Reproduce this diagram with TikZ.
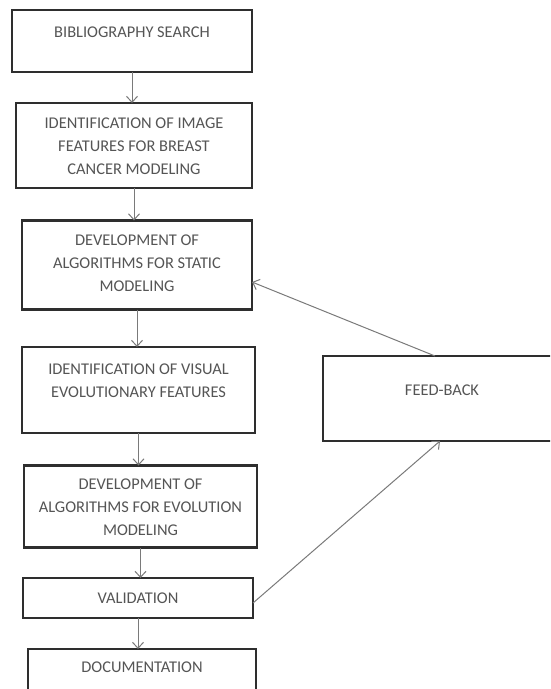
\documentclass[tikz,border=0pt]{standalone}
\usepackage{fontspec}
\setmainfont{Carlito}
\usetikzlibrary{arrows.meta}
\definecolor{boxline}{HTML}{2E2E2E}
\definecolor{linkline}{HTML}{7A7A7A}
\definecolor{labeltext}{HTML}{555555}
\begin{document}
\begin{tikzpicture}[x=1pt,y=-1pt,
  stage/.style={draw=boxline,line width=2.2pt,rectangle,inner sep=0pt,outer sep=0pt},
  caption/.style={text=labeltext,align=center,inner sep=0pt,
    font=\fontsize{16.4}{23}\selectfont},
  link/.style={draw=linkline,line width=1pt,-{Straight Barb[length=6pt,width=11pt]}}]
\useasboundingbox (0,0) rectangle (550,689);
\clip (0,0) rectangle (550,689);
\fill[white] (0,0) rectangle (550,689);
% stage boxes (centre, width, height in px)
\node[stage,minimum width=240pt,minimum height=62pt] (b1) at (132,41) {};
\node[stage,minimum width=236pt,minimum height=85pt] (b2) at (134,145.5) {};
\node[stage,minimum width=230pt,minimum height=89pt] (b3) at (137,265) {};
\node[stage,minimum width=233pt,minimum height=86pt] (b4) at (138.5,390) {};
\node[stage,minimum width=233pt,minimum height=82pt] (b5) at (140.5,506.5) {};
\node[stage,minimum width=230pt,minimum height=40pt] (b6) at (138,598) {};
\node[stage,minimum width=228pt,minimum height=70pt] (b7) at (142,684) {};
\node[stage,minimum width=232pt,minimum height=85pt] (fb) at (439,398.5) {};
% captions
\node[caption] (t1) at (132,32) {BIBLIOGRAPHY SEARCH};
\node[caption] (t2) at (134,146) {IDENTIFICATION OF IMAGE\\FEATURES FOR BREAST\\CANCER MODELING};
\node[caption] (t3) at (137,263) {DEVELOPMENT OF\\ALGORITHMS FOR STATIC\\MODELING};
\node[caption] (t4) at (138.5,381) {IDENTIFICATION OF VISUAL\\EVOLUTIONARY FEATURES};
\node[caption] (t5) at (140.5,507) {DEVELOPMENT OF\\ALGORITHMS FOR EVOLUTION\\MODELING};
\node[caption] (t6) at (138,598) {VALIDATION};
\node[caption] (t7) at (142,667) {DOCUMENTATION};
\node[caption] (t8) at (442,390) {FEED-BACK};
% flow
\draw[link] (b1.south) -- (b1.south |- b2.north);
\draw[link] (b2.south) -- (b2.south |- b3.north);
\draw[link] (b3.south) -- (b3.south |- b4.north);
\draw[link] (b4.south) -- (b4.south |- b5.north);
\draw[link] (b5.south) -- (b5.south |- b6.north);
\draw[link] (b6.south) -- (b6.south |- b7.north);
% feedback loop
\draw[link] ([xshift=-4pt]fb.north) -- ([yshift=-17pt]b3.east);
\draw[link] ([yshift=-5pt]b6.east) -- ([xshift=1pt]fb.south);
\end{tikzpicture}
\end{document}
